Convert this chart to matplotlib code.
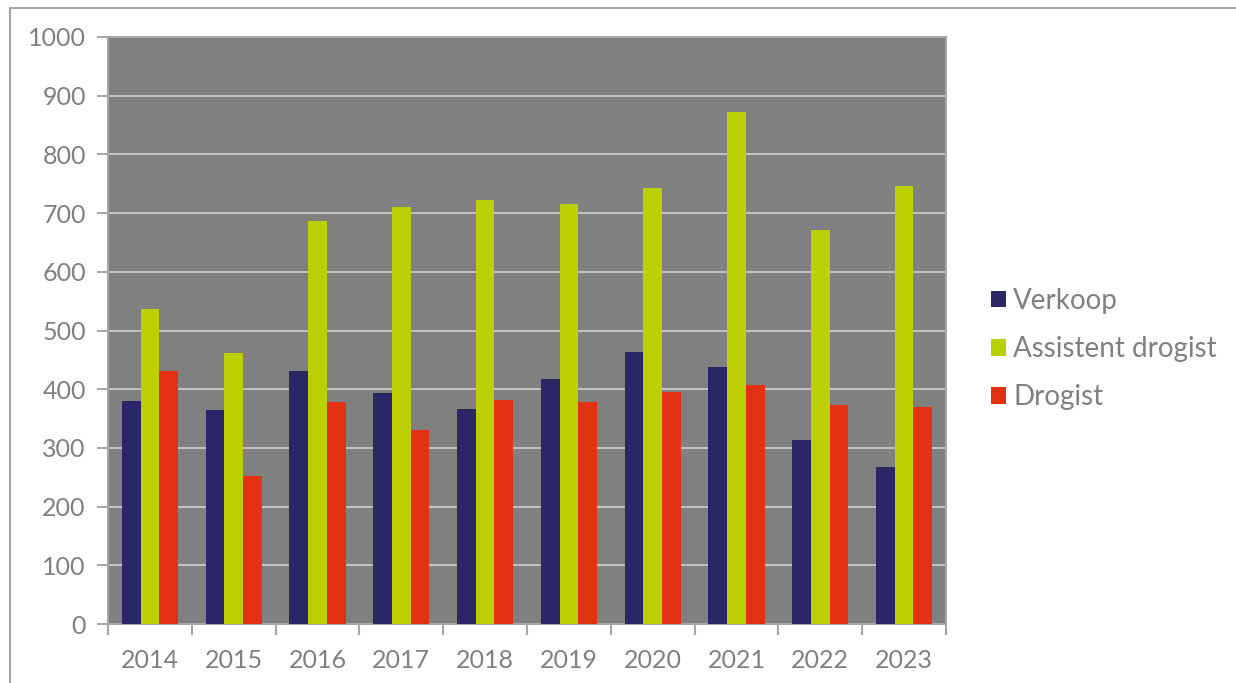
import matplotlib.pyplot as plt
import numpy as np
from matplotlib.patches import Rectangle

years = ['2014', '2015', '2016', '2017', '2018', '2019', '2020', '2021', '2022', '2023']
verkoop = [380, 365, 431, 393, 367, 417, 464, 437, 314, 267]
assistent = [537, 462, 687, 710, 723, 715, 743, 873, 672, 746]
drogist = [431, 252, 378, 330, 382, 378, 396, 407, 373, 370]

series = [('Verkoop', verkoop, '#2b2666'),
          ('Assistent drogist', assistent, '#bccf00'),
          ('Drogist', drogist, '#e33114')]

plt.rcParams['font.family'] = ['Lato', 'DejaVu Sans']
text_grey = '#808080'
line_grey = '#a6a6a6'

W, H = 1236, 683
fig = plt.figure(figsize=(W / 100, H / 100), dpi=100)
ax = fig.add_axes([108 / W, 1 - 624 / H, (946 - 108) / W, (624 - 37) / H])
ax.set_facecolor('#808080')

x = np.arange(len(years))
bw = 0.223
handles = []
for i, (name, vals, col) in enumerate(series):
    b = ax.bar(x + (i - 1) * bw, vals, width=bw, color=col, label=name, zorder=3)
    handles.append(b)

ax.set_xlim(-0.5, len(years) - 0.5)
ax.set_ylim(0, 1000)
ax.set_yticks(range(0, 1001, 100))
ax.yaxis.grid(True, color='#c3c3c3', linewidth=1.4, zorder=1)
ax.set_axisbelow(True)

ax.set_xticks(x)
ax.set_xticklabels(years)
ax.set_xticks(np.arange(-0.5, len(years)), minor=True)
ax.tick_params(axis='x', which='major', length=0, pad=18, labelsize=18, labelcolor=text_grey)
ax.tick_params(axis='x', which='minor', length=8, width=1.5, color=line_grey)
ax.tick_params(axis='y', length=8, width=1.5, color=line_grey, pad=8, labelsize=18, labelcolor=text_grey)

for s in ax.spines.values():
    s.set_color(line_grey)
    s.set_linewidth(1.5)

# outer chart border
fig.patches.append(Rectangle((10 / W, -0.1), 1.2, 1.1 - 8 / H, transform=fig.transFigure,
                             fill=False, edgecolor=line_grey, linewidth=1.5))

leg = fig.legend(handles=handles, loc='center left', bbox_to_anchor=(966 / W, 1 - 349 / H),
                 frameon=False, fontsize=20, handlelength=0.55, handleheight=0.55,
                 handletextpad=0.25, labelspacing=0.8, labelcolor=text_grey)

fig.savefig('out.png', dpi=100)
